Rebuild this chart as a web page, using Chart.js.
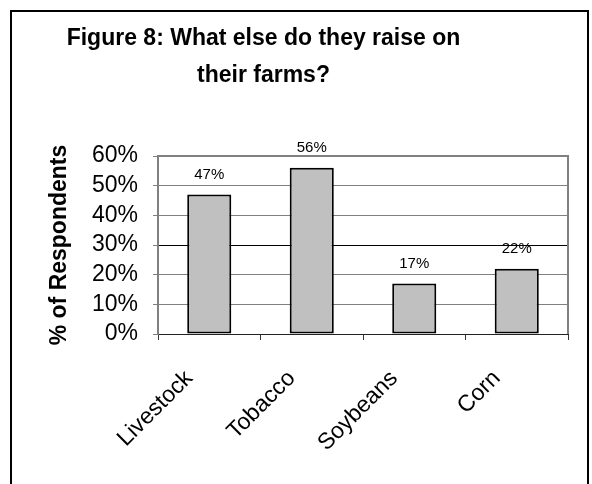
<!DOCTYPE html>
<html>
<head>
<meta charset="utf-8">
<script src="https://cdn.jsdelivr.net/npm/chart.js@4/dist/chart.umd.min.js"></script>
<style>
  html, body { margin: 0; padding: 0; background: #fff; width: 592px; height: 484px; overflow: hidden; position: relative; }
  #frame { position: absolute; left: 10px; top: 10px; width: 579px; height: 500px; box-sizing: border-box; border: 2px solid #000; }
  #c { position: absolute; left: -41px; top: 0; }
</style>
</head>
<body>
<div id="frame"></div>
<canvas id="c" width="633" height="484"></canvas>
<script>
const titleLines = ['Figure 8: What else do they raise on', 'their farms?'];
const categories = ['Livestock', 'Tobacco', 'Soybeans', 'Corn'];
const values = [47, 56, 17, 22];
const yAxisTitle = '% of Respondents';
const yMax = 60;
const yStep = 10;

const FONT = "'Liberation Sans', Arial, sans-serif";

const plotBorder = {
  id: 'plotBorder',
  afterDraw(chart) {
    const a = chart.chartArea;
    const ctx = chart.ctx;
    ctx.save();
    ctx.strokeStyle = '#808080';
    ctx.lineWidth = 2;
    ctx.beginPath();
    ctx.moveTo(a.left, a.top);
    ctx.lineTo(a.right, a.top);
    ctx.lineTo(a.right, a.bottom);
    ctx.stroke();
    ctx.restore();
  }
};

const barLabels = {
  id: 'barLabels',
  afterDatasetsDraw(chart) {
    const ctx = chart.ctx;
    const meta = chart.getDatasetMeta(0);
    ctx.save();
    ctx.font = '15px ' + FONT;
    ctx.fillStyle = '#000';
    ctx.textAlign = 'center';
    ctx.textBaseline = 'alphabetic';
    meta.data.forEach((bar, i) => {
      ctx.fillText(values[i] + '%', bar.x, bar.y - 16);
    });
    ctx.restore();
  }
};

new Chart(document.getElementById('c'), {
  type: 'bar',
  data: {
    labels: categories,
    datasets: [{
      data: values,
      backgroundColor: '#c0c0c0',
      borderColor: '#000',
      borderWidth: 2,
      borderSkipped: false,
      barPercentage: 0.43,
      categoryPercentage: 1.0
    }]
  },
  options: {
    responsive: false,
    devicePixelRatio: 1,
    animation: false,
    layout: { padding: { top: 0, left: 0, right: 24, bottom: 0 } },
    plugins: {
      legend: { display: false },
      tooltip: { enabled: false },
      title: {
        display: true,
        text: titleLines,
        color: '#000',
        font: { family: FONT, size: 23, weight: 'bold', lineHeight: '37px' },
        padding: { top: 20, bottom: 62 }
      }
    },
    scales: {
      x: {
        afterFit(scale) { scale.height = 150; },
        grid: {
          offset: true,
          drawOnChartArea: false,
          drawTicks: true,
          tickLength: 6,
          color: '#333'
        },
        border: { display: true, color: '#222', width: 1 },
        ticks: {
          maxRotation: 45,
          minRotation: 45,
          autoSkip: false,
          padding: 25,
          labelOffset: -20,
          color: '#000',
          font: { family: FONT, size: 23 }
        }
      },
      y: {
        min: 0,
        max: yMax,
        afterFit(scale) { scale.width = 199; },
        ticks: {
          stepSize: yStep,
          autoSkip: false,
          padding: 15,
          color: '#000',
          font: { family: FONT, size: 23 },
          callback: (v) => v + '%'
        },
        grid: {
          drawTicks: true,
          tickLength: 5,
          tickColor: '#808080',
          color: (ctx) => {
            const v = ctx.tick ? ctx.tick.value : null;
            if (v === 0 || v === yMax) return 'rgba(0,0,0,0)';
            if (v === 30) return '#000';
            return '#808080';
          },
          lineWidth: 1
        },
        border: { display: true, color: '#808080', width: 2 },
        title: {
          display: true,
          text: yAxisTitle,
          color: '#000',
          font: { family: FONT, size: 23, weight: 'bold' },
          padding: { top: 87, bottom: 0 }
        }
      }
    }
  },
  plugins: [plotBorder, barLabels]
});
</script>
</body>
</html>
